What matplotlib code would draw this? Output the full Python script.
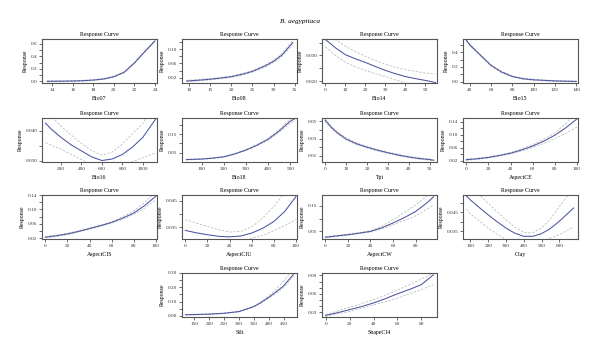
import numpy as np
import matplotlib
matplotlib.use("Agg")
import matplotlib.pyplot as plt

plt.rcParams['font.family'] = ['Liberation Serif', 'DejaVu Serif']

# Response curves (mean, lower band, upper band)
bio07_x = [13.5, 15, 16, 17, 18, 19, 20, 21, 22, 23, 24]
bio07_mean = [0.0, 0.002, 0.005, 0.01, 0.02, 0.037, 0.075, 0.145, 0.295, 0.476, 0.65]
bio07_lo = [-0.01, -0.008, -0.004, 0.002, 0.012, 0.03, 0.066, 0.135, 0.285, 0.466, 0.64]
bio07_hi = [0.01, 0.012, 0.014, 0.018, 0.028, 0.045, 0.084, 0.155, 0.305, 0.486, 0.66]

bio08_x = [9.5, 12, 15, 18, 20, 23, 25, 28, 30, 32, 34.5]
bio08_mean = [0.011, 0.013, 0.016, 0.020, 0.023, 0.031, 0.038, 0.053, 0.066, 0.084, 0.118]
bio08_lo = [0.009, 0.011, 0.014, 0.018, 0.021, 0.029, 0.036, 0.050, 0.063, 0.080, 0.112]
bio08_hi = [0.013, 0.015, 0.018, 0.022, 0.025, 0.033, 0.040, 0.056, 0.069, 0.088, 0.124]

bio14_x = [0, 5, 10, 15, 20, 25, 30, 35, 40, 45, 50, 55]
bio14_mean = [0.0362, 0.0330, 0.0303, 0.0287, 0.0273, 0.0257, 0.0242, 0.0229, 0.0218, 0.0210, 0.0203, 0.0195]
bio14_lo = [0.0333, 0.0300, 0.0273, 0.0256, 0.0242, 0.0229, 0.0218, 0.0205, 0.0193, 0.0183, 0.0175, 0.0168]
bio14_hi = [0.0390, 0.0362, 0.0336, 0.0315, 0.0297, 0.0280, 0.0266, 0.0254, 0.0245, 0.0238, 0.0232, 0.0228]

bio15_x = [36.8, 40, 45, 50, 55, 60, 70, 80, 90, 100, 120, 140]
bio15_mean = [0.56, 0.50, 0.43, 0.36, 0.29, 0.22, 0.13, 0.07, 0.04, 0.025, 0.01, 0.003]
bio15_lo = [0.55, 0.49, 0.42, 0.35, 0.28, 0.21, 0.12, 0.062, 0.032, 0.018, 0.004, -0.004]
bio15_hi = [0.57, 0.51, 0.44, 0.37, 0.30, 0.23, 0.14, 0.078, 0.048, 0.032, 0.016, 0.01]

bio16_x = [47, 100, 200, 300, 400, 500, 600, 700, 800, 900, 1000, 1130]
bio16_mean = [0.0425, 0.0406, 0.0377, 0.0352, 0.0332, 0.0312, 0.0300, 0.0305, 0.0320, 0.0345, 0.0377, 0.0440]
bio16_lo = [0.0360, 0.0352, 0.0338, 0.0320, 0.0303, 0.0286, 0.0276, 0.0278, 0.0286, 0.0296, 0.0309, 0.0326]
bio16_hi = [0.0490, 0.0450, 0.0414, 0.0385, 0.0357, 0.0333, 0.0318, 0.0328, 0.0355, 0.0390, 0.0423, 0.0500]

bio18_x = [30, 100, 150, 200, 250, 300, 350, 400, 450, 500, 518]
bio18_mean = [0.013, 0.016, 0.021, 0.028, 0.044, 0.065, 0.091, 0.123, 0.168, 0.220, 0.232]
bio18_lo = [0.011, 0.014, 0.019, 0.026, 0.042, 0.062, 0.087, 0.117, 0.160, 0.208, 0.220]
bio18_hi = [0.015, 0.018, 0.023, 0.030, 0.046, 0.068, 0.095, 0.128, 0.175, 0.230, 0.244]

tpi_x = [0, 3, 6, 10, 15, 20, 25, 30, 35, 40, 45, 50, 52]
tpi_mean = [0.0515, 0.0430, 0.0365, 0.0296, 0.0240, 0.0200, 0.0165, 0.0135, 0.0108, 0.0085, 0.0068, 0.0055, 0.0047]
tpi_lo = [0.0500, 0.0418, 0.0352, 0.0285, 0.0230, 0.0190, 0.0156, 0.0127, 0.0100, 0.0078, 0.0060, 0.0047, 0.0040]
tpi_hi = [0.0530, 0.0442, 0.0378, 0.0307, 0.0250, 0.0210, 0.0174, 0.0143, 0.0116, 0.0092, 0.0076, 0.0063, 0.0055]

ce_x = [0, 10, 20, 30, 40, 50, 60, 70, 80, 90, 100]
ce_mean = [0.023, 0.026, 0.030, 0.036, 0.043, 0.053, 0.065, 0.080, 0.098, 0.121, 0.148]
ce_lo = [0.021, 0.024, 0.028, 0.034, 0.041, 0.050, 0.061, 0.073, 0.088, 0.104, 0.123]
ce_hi = [0.025, 0.028, 0.032, 0.038, 0.045, 0.056, 0.069, 0.086, 0.105, 0.135, 0.170]

cis_x = [0, 10, 20, 30, 40, 50, 60, 70, 80, 90, 100]
cis_mean = [0.023, 0.027, 0.032, 0.039, 0.047, 0.055, 0.064, 0.076, 0.090, 0.111, 0.137]
cis_lo = [0.021, 0.025, 0.030, 0.037, 0.045, 0.053, 0.062, 0.073, 0.086, 0.104, 0.127]
cis_hi = [0.025, 0.029, 0.034, 0.041, 0.049, 0.057, 0.066, 0.080, 0.096, 0.120, 0.150]

ciu_x = [0, 10, 20, 30, 40, 50, 60, 70, 80, 90, 100]
ciu_mean = [0.0339, 0.0330, 0.0323, 0.0317, 0.0315, 0.0318, 0.0329, 0.0347, 0.0372, 0.0410, 0.0465]
ciu_lo = [0.0290, 0.0290, 0.0290, 0.0290, 0.0290, 0.0297, 0.0310, 0.0320, 0.0338, 0.0357, 0.0379]
ciu_hi = [0.0379, 0.0366, 0.0354, 0.0342, 0.0333, 0.0335, 0.0352, 0.0385, 0.0428, 0.0480, 0.0540]

cw_x = [0, 10, 20, 30, 40, 50, 60, 70, 80, 90, 96]
cw_mean = [0.027, 0.032, 0.037, 0.043, 0.050, 0.064, 0.083, 0.104, 0.128, 0.162, 0.186]
cw_lo = [0.025, 0.030, 0.035, 0.041, 0.047, 0.060, 0.076, 0.093, 0.111, 0.137, 0.154]
cw_hi = [0.029, 0.034, 0.039, 0.045, 0.053, 0.070, 0.096, 0.124, 0.154, 0.190, 0.215]

clay_x = [77, 100, 150, 200, 250, 300, 350, 400, 450, 500, 550, 600, 680]
clay_mean = [0.0535, 0.0514, 0.0474, 0.0436, 0.0400, 0.0367, 0.0340, 0.0324, 0.0324, 0.0338, 0.0365, 0.0403, 0.0472]
clay_lo = [0.0467, 0.0441, 0.0404, 0.0367, 0.0335, 0.0308, 0.0290, 0.0280, 0.0282, 0.0298, 0.0315, 0.0333, 0.0372]
clay_hi = [0.0600, 0.0580, 0.0540, 0.0497, 0.0452, 0.0410, 0.0372, 0.0345, 0.0342, 0.0367, 0.0415, 0.0479, 0.0580]

silt_x = [120, 150, 200, 250, 300, 350, 375, 400, 425, 450, 485]
silt_mean = [0.008, 0.009, 0.012, 0.018, 0.030, 0.065, 0.095, 0.130, 0.168, 0.210, 0.295]
silt_lo = [0.006, 0.007, 0.010, 0.016, 0.028, 0.062, 0.090, 0.124, 0.158, 0.198, 0.280]
silt_hi = [0.010, 0.011, 0.014, 0.020, 0.032, 0.068, 0.100, 0.140, 0.185, 0.245, 0.330]

ci4_x = [0, 10, 20, 30, 40, 50, 60, 70, 80, 90]
ci4_mean = [0.0247, 0.029, 0.034, 0.039, 0.045, 0.052, 0.060, 0.067, 0.075, 0.091]
ci4_lo = [0.023, 0.027, 0.031, 0.036, 0.042, 0.047, 0.053, 0.060, 0.067, 0.075]
ci4_hi = [0.026, 0.032, 0.038, 0.044, 0.050, 0.058, 0.066, 0.075, 0.084, 0.094]

names = ['Bio07', 'Bio08', 'Bio14', 'Bio15', 'Bio16', 'Bio18', 'Tpi', 'AspectCE',
         'AspectCIS', 'AspectCIU', 'AspectCW', 'Clay', 'Silt', 'ShapeCI4']
curves = [
    (bio07_x, bio07_mean, bio07_lo, bio07_hi),
    (bio08_x, bio08_mean, bio08_lo, bio08_hi),
    (bio14_x, bio14_mean, bio14_lo, bio14_hi),
    (bio15_x, bio15_mean, bio15_lo, bio15_hi),
    (bio16_x, bio16_mean, bio16_lo, bio16_hi),
    (bio18_x, bio18_mean, bio18_lo, bio18_hi),
    (tpi_x, tpi_mean, tpi_lo, tpi_hi),
    (ce_x, ce_mean, ce_lo, ce_hi),
    (cis_x, cis_mean, cis_lo, cis_hi),
    (ciu_x, ciu_mean, ciu_lo, ciu_hi),
    (cw_x, cw_mean, cw_lo, cw_hi),
    (clay_x, clay_mean, clay_lo, clay_hi),
    (silt_x, silt_mean, silt_lo, silt_hi),
    (ci4_x, ci4_mean, ci4_lo, ci4_hi),
]

# axis ranges and ticks: (xlim, xticks, ylim, yticks, labelled yticks)
axes_spec = [
    ((13.0, 24.2), np.arange(14, 25, 2), (-0.027, 0.68), np.arange(0, 0.61, 0.1), [0.0, 0.2, 0.4, 0.6], '%.1f'),
    ((8.4, 35.5), np.arange(10, 36, 5), (0.0055, 0.128), np.arange(0.02, 0.121, 0.02), [0.02, 0.06, 0.10], '%.2f'),
    ((-1.7, 55.8), np.arange(0, 51, 10), (0.0193, 0.0364), [0.020, 0.025, 0.030, 0.035], [0.020, 0.030], '%.3f'),
    ((33.6, 141.6), np.arange(40, 141, 20), (-0.018, 0.58), np.arange(0, 0.51, 0.1), [0.0, 0.2, 0.4], '%.1f'),
    ((13, 1140), np.arange(200, 1001, 200), (0.0295, 0.0442), [0.030, 0.035, 0.040], [0.030, 0.040], '%.3f'),
    ((10, 530), np.arange(100, 501, 100), (0.0, 0.237), [0.05, 0.10, 0.15, 0.20], [0.05, 0.15], '%.2f'),
    ((-1.5, 53.5), np.arange(0, 51, 10), (0.0027, 0.054), [0.01, 0.02, 0.03, 0.04, 0.05], [0.01, 0.03, 0.05], '%.2f'),
    ((-3, 101), np.arange(0, 101, 20), (0.016, 0.151), np.arange(0.02, 0.141, 0.02), [0.02, 0.06, 0.10, 0.14], '%.2f'),
    ((-3, 101), np.arange(0, 101, 20), (0.018, 0.14), np.arange(0.02, 0.141, 0.02), [0.02, 0.06, 0.10, 0.14], '%.2f'),
    ((-3, 101), np.arange(0, 101, 20), (0.0307, 0.0471), [0.035, 0.040, 0.045], [0.035, 0.045], '%.3f'),
    ((-3, 99), np.arange(0, 81, 20), (0.020, 0.193), [0.05, 0.10, 0.15], [0.05, 0.15], '%.2f'),
    ((58, 705), np.arange(100, 601, 100), (0.031, 0.054), [0.035, 0.040, 0.045, 0.050], [0.035, 0.045], '%.3f'),
    ((108, 495), np.arange(150, 451, 50), (-0.008, 0.30), np.arange(0, 0.301, 0.05), [0.0, 0.1, 0.2, 0.3], '%.2f'),
    ((-3, 93), np.arange(0, 81, 20), (0.022, 0.094), np.arange(0.03, 0.091, 0.01), [0.03, 0.06, 0.09], '%.2f'),
]

fig = plt.figure(figsize=(6, 3.58), dpi=100)
W, H = 600, 358
col_left = [42, 182, 322, 463]
row_top = [39, 118, 195, 273]
aw, ah = 115, 44

frame_col = '#555555'
mean_col = '#4a55a0'
band_col = '#b8b8b8'

for i, name in enumerate(names):
    if i < 12:
        r, c = divmod(i, 4)
    else:
        r, c = 3, i - 11
    ax = fig.add_axes([col_left[c] / W, 1 - (row_top[r] + ah) / H, aw / W, ah / H])
    x, m, lo, hi = curves[i]
    xl, xt, yl, yt, ylab, fmt = axes_spec[i]
    ax.plot(x, lo, color=band_col, lw=0.55, dashes=(3, 2))
    ax.plot(x, hi, color=band_col, lw=0.55, dashes=(3, 2))
    ax.plot(x, m, color=mean_col, lw=0.75)
    ax.set_xlim(xl)
    ax.set_ylim(yl)
    ax.set_xticks(xt)
    ax.set_xticklabels(['%g' % v for v in xt])
    ax.set_yticks(yt)
    labs = []
    for v in yt:
        if any(abs(v - w) < 1e-9 for w in ylab):
            labs.append(fmt % v)
        else:
            labs.append('')
    ax.set_yticklabels(labs)
    ax.tick_params(direction='out', length=2, width=0.5, colors='#333333',
                   labelsize=3.8, pad=1.5)
    for s in ax.spines.values():
        s.set_color(frame_col)
        s.set_linewidth(0.8)
    ax.set_title('Response Curve', fontsize=4.2, pad=2.5)
    ax.set_xlabel(name, fontsize=4.2, labelpad=3)
    ax.set_ylabel('Response', fontsize=4.2, labelpad=2)

fig.text(0.5, 1 - 22 / H, 'B. aegyptiaca', ha='center', va='center',
         fontsize=5.2, style='italic')

fig.savefig('out.png', dpi=100)
